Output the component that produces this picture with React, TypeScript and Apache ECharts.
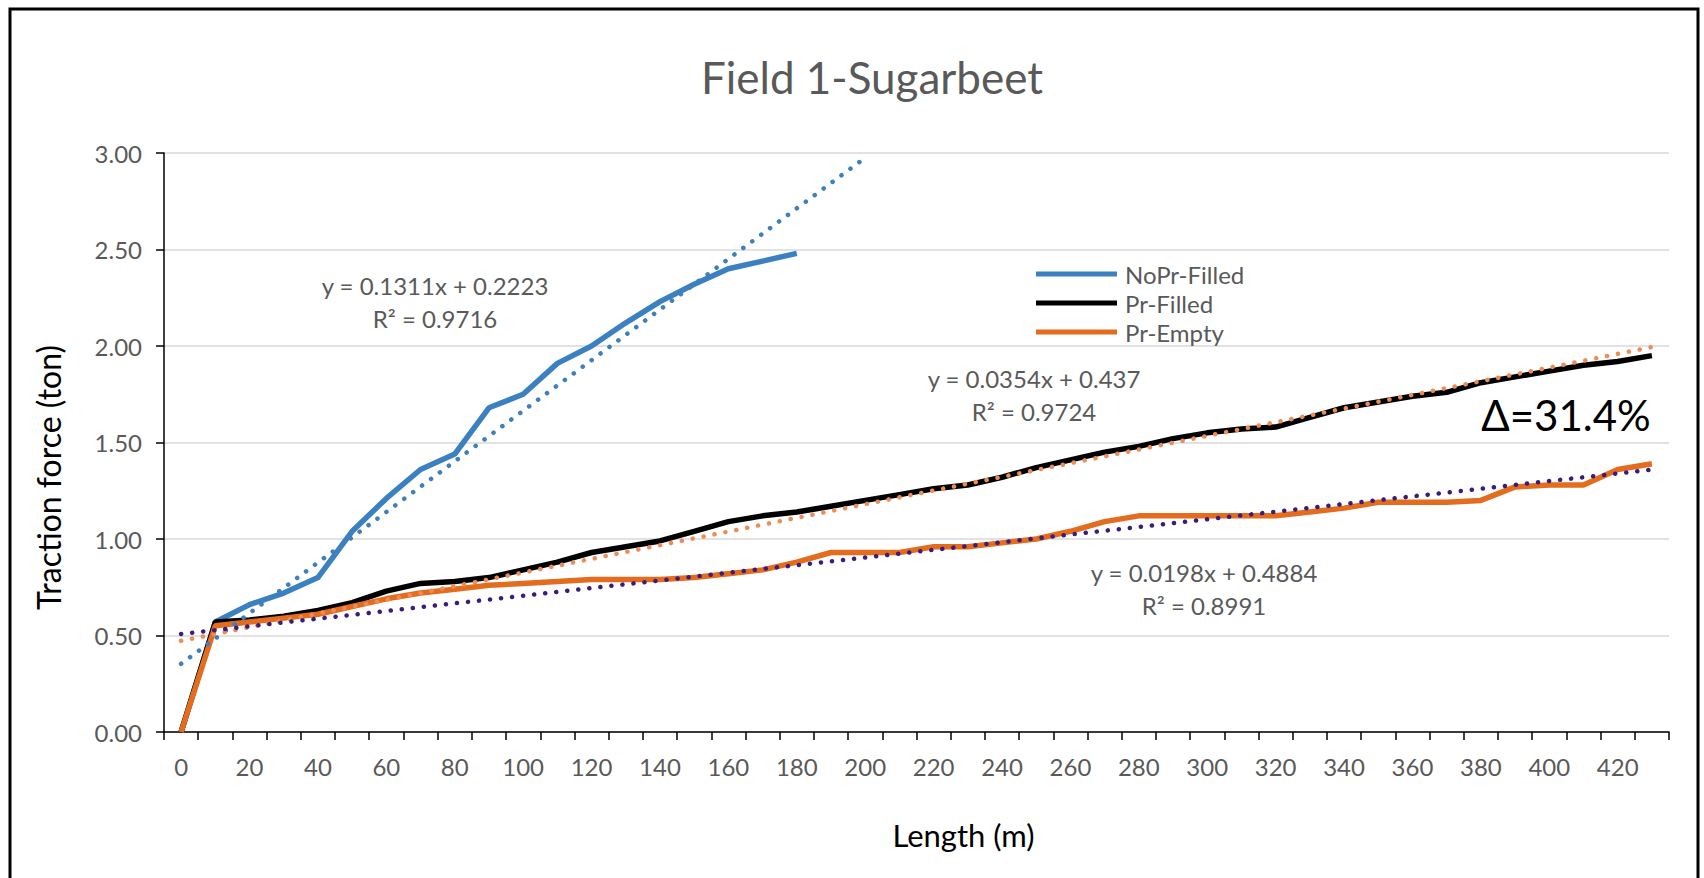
import React, { useEffect, useRef } from 'react';
import * as echarts from 'echarts';

// Length categories (m)
const lengths = [
  0, 10, 20, 30, 40, 50, 60, 70, 80, 90, 100, 110, 120, 130, 140, 150, 160, 170, 180, 190,
  200, 210, 220, 230, 240, 250, 260, 270, 280, 290, 300, 310, 320, 330, 340, 350, 360, 370,
  380, 390, 400, 410, 420, 430,
];

// Traction force (ton)
const noPrFilled = [
  0, 0.57, 0.66, 0.72, 0.8, 1.04, 1.21, 1.36, 1.44, 1.68, 1.75, 1.91, 2.0, 2.12, 2.23, 2.32,
  2.4, 2.44, 2.48,
];
const prFilled = [
  0, 0.57, 0.58, 0.6, 0.63, 0.67, 0.73, 0.77, 0.78, 0.8, 0.84, 0.88, 0.93, 0.96, 0.99, 1.04,
  1.09, 1.12, 1.14, 1.17, 1.2, 1.23, 1.26, 1.28, 1.32, 1.37, 1.41, 1.45, 1.48, 1.52, 1.55,
  1.57, 1.58, 1.63, 1.68, 1.71, 1.74, 1.76, 1.81, 1.84, 1.87, 1.9, 1.92, 1.95,
];
const prEmpty = [
  0, 0.55, 0.57, 0.59, 0.61, 0.65, 0.69, 0.72, 0.74, 0.76, 0.77, 0.78, 0.79, 0.79, 0.79, 0.8,
  0.82, 0.84, 0.88, 0.93, 0.93, 0.93, 0.96, 0.96, 0.98, 1.0, 1.04, 1.09, 1.12, 1.12, 1.12,
  1.12, 1.12, 1.14, 1.16, 1.19, 1.19, 1.19, 1.2, 1.27, 1.28, 1.28, 1.36, 1.39,
];

// Linear trendlines as shown in the chart (slope, intercept; x = point number)
const trendNoPr = [0.1311, 0.2223];
const trendPrFilled = [0.0354, 0.437];
const trendPrEmpty = [0.0198, 0.4884];
const trendNoPrLastIndex = 20;
const trendPrLastIndex = 43;

const eqNoPr = ['y = 0.1311x + 0.2223', 'R² = 0.9716'];
const eqPrFilled = ['y = 0.0354x + 0.437', 'R² = 0.9724'];
const eqPrEmpty = ['y = 0.0198x + 0.4884', 'R² = 0.8991'];
const deltaLabel = 'Δ=31.4%';

const FONT = 'Lato, "Open Sans", sans-serif';

function trendEnds(coef: number[], lastIdx: number) {
  const arr: (number | null)[] = lengths.map(() => null);
  arr[0] = +(coef[0] * 1 + coef[1]).toFixed(4);
  arr[lastIdx] = +(coef[0] * (lastIdx + 1) + coef[1]).toFixed(4);
  return arr;
}

export default function App() {
  const ref = useRef<HTMLDivElement>(null);
  useEffect(() => {
    if (!ref.current) return;
    const chart = echarts.init(ref.current, undefined, { renderer: 'svg' });
    const dotted = (color: string) => ({
      color,
      width: 4.5,
      type: [0.1, 11] as any,
      cap: 'round' as any,
    });
    const eqText = (lines: string[], x: number, y: number) => [
      {
        type: 'text',
        x,
        y,
        style: {
          text: lines[0],
          fill: '#595959',
          fontSize: 24,
          fontFamily: FONT,
          textAlign: 'center',
          textVerticalAlign: 'middle',
        },
      },
      {
        type: 'text',
        x,
        y: y + 33,
        style: {
          text: lines[1],
          fill: '#595959',
          fontSize: 24,
          fontFamily: FONT,
          textAlign: 'center',
          textVerticalAlign: 'middle',
        },
      },
    ];
    chart.setOption({
      animation: false,
      backgroundColor: '#ffffff',
      title: {
        text: 'Field 1-Sugarbeet',
        left: 867,
        textAlign: 'center',
        top: 50,
        textStyle: { fontFamily: FONT, fontSize: 44, fontWeight: 'normal', color: '#595959' },
      },
      legend: {
        data: ['NoPr-Filled', 'Pr-Filled', 'Pr-Empty'],
        orient: 'vertical',
        left: 1036,
        top: 262,
        itemWidth: 81,
        itemHeight: 5,
        itemGap: 5,
        icon: 'rect',
        padding: 0,
        textStyle: { fontFamily: FONT, fontSize: 24, color: '#595959', padding: [0, 0, 0, 3] },
      },
      grid: { left: 164, right: 35, top: 153, bottom: 146, containLabel: false },
      xAxis: {
        type: 'category',
        data: lengths.map(String),
        boundaryGap: true,
        axisLine: { lineStyle: { color: '#000', width: 1.5 } },
        axisTick: { show: true, interval: 0, length: 8, lineStyle: { color: '#000', width: 1.5 } },
        axisLabel: { interval: 1, color: '#595959', fontSize: 24, fontFamily: FONT, margin: 22 },
        splitLine: { show: false },
        name: 'Length (m)',
        nameLocation: 'middle',
        nameGap: 87,
        nameTextStyle: { fontFamily: FONT, fontSize: 31, color: '#000', padding: [0, 0, 0, 94] },
      },
      yAxis: {
        type: 'value',
        min: 0,
        max: 3,
        interval: 0.5,
        axisLine: { show: true, lineStyle: { color: '#000', width: 1.5 } },
        axisTick: { show: true, length: 8, lineStyle: { color: '#000', width: 1.5 } },
        axisLabel: {
          color: '#595959',
          fontSize: 24,
          fontFamily: FONT,
          margin: 22,
          formatter: (v: number) => v.toFixed(2),
        },
        splitLine: { lineStyle: { color: '#D9D9D9', width: 1.5 } },
        name: 'Traction force (ton)',
        nameLocation: 'middle',
        nameGap: 100,
        nameRotate: 90,
        nameTextStyle: { fontFamily: FONT, fontSize: 32, color: '#000', padding: [0, 70, 0, 0] },
      },
      series: [
        {
          name: 'NoPr-Filled',
          type: 'line',
          data: noPrFilled,
          symbol: 'none',
          color: '#3B80C0',
          lineStyle: { color: '#3B80C0', width: 5.5 },
          z: 2,
        },
        {
          name: 'Pr-Filled',
          type: 'line',
          data: prFilled,
          symbol: 'none',
          color: '#000000',
          lineStyle: { color: '#000000', width: 5.5 },
          z: 2,
        },
        {
          name: 'Pr-Empty',
          type: 'line',
          data: prEmpty,
          symbol: 'none',
          color: '#E46C1E',
          lineStyle: { color: '#E46C1E', width: 5.5 },
          z: 2,
        },
        {
          name: 'Linear (NoPr-Filled)',
          type: 'line',
          data: trendEnds(trendNoPr, trendNoPrLastIndex),
          connectNulls: true,
          symbol: 'none',
          lineStyle: dotted('#3F7FBA'),
          z: 3,
        },
        {
          name: 'Linear (Pr-Filled)',
          type: 'line',
          data: trendEnds(trendPrFilled, trendPrLastIndex),
          connectNulls: true,
          symbol: 'none',
          lineStyle: dotted('#EE8C55'),
          z: 3,
        },
        {
          name: 'Linear (Pr-Empty)',
          type: 'line',
          data: trendEnds(trendPrEmpty, trendPrLastIndex),
          connectNulls: true,
          symbol: 'none',
          lineStyle: dotted('#3A1D7A'),
          z: 3,
        },
      ],
      graphic: [
        {
          type: 'rect',
          shape: { x: 10, y: 9, width: 1688, height: 900 },
          style: { fill: 'none', stroke: '#000', lineWidth: 3 },
          silent: true,
          z: 10,
        },
        ...eqText(eqNoPr, 435, 285),
        ...eqText(eqPrFilled, 1034, 378),
        ...eqText(eqPrEmpty, 1204, 572),
        {
          type: 'text',
          x: 1566,
          y: 415,
          style: {
            text: deltaLabel,
            fill: '#000',
            fontSize: 42,
            fontFamily: FONT,
            textAlign: 'center',
            textVerticalAlign: 'middle',
          },
        },
      ],
    });
    return () => chart.dispose();
  }, []);
  return (
    <div
      ref={ref}
      style={{ position: 'absolute', left: 0, top: 0, width: 1704, height: 878, background: '#fff' }}
    />
  );
}
